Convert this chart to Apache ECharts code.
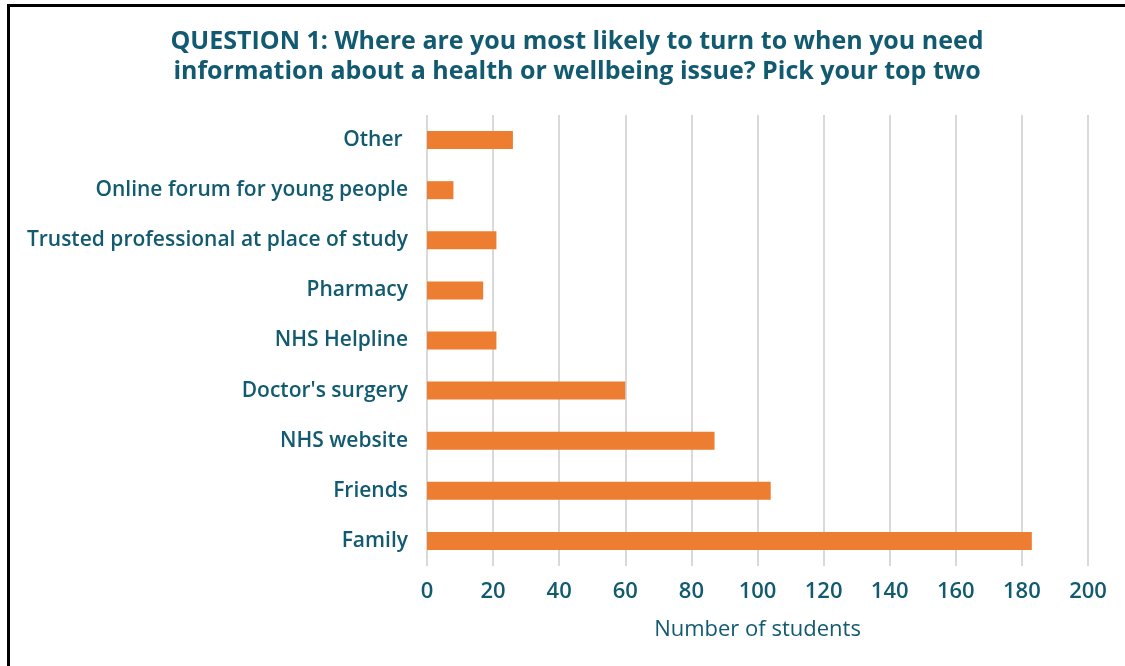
<!DOCTYPE html>
<html>
<head>
<meta charset="utf-8">
<script src="https://cdn.jsdelivr.net/npm/echarts@6/dist/echarts.min.js"></script>
<style>
  html, body { margin: 0; padding: 0; background: #fff; }
  #chart { width: 1125px; height: 666px; }
</style>
</head>
<body>
<div id="chart"></div>
<script>
// categories, top to bottom
const categories = [
  "Other ",
  "Online forum for young people",
  "Trusted professional at place of study",
  "Pharmacy",
  "NHS Helpline",
  "Doctor's surgery",
  "NHS website",
  "Friends",
  "Family"
];
const students = [26, 8, 21, 17, 21, 60, 87, 104, 183];
const xTicks = [0, 200, 20]; // min, max, interval

const textColor = "#115a70";
const font = "Open Sans";
const myChart = echarts.init(document.getElementById("chart"));

const option = {
  animation: false,
  textStyle: { fontFamily: font },
  title: {
    text: "QUESTION 1: Where are you most likely to turn to when you need\ninformation about a health or wellbeing issue? Pick your top two",
    left: 572,
    top: 22,
    textAlign: "center",
    textStyle: {
      color: textColor,
      fontSize: 25,
      fontWeight: "bold",
      lineHeight: 30,
      fontFamily: font
    }
  },
  graphic: [
    {
      type: "rect",
      shape: { x: 8.5, y: 5.5, width: 1200, height: 700 },
      style: { fill: null, stroke: "#000", lineWidth: 3 },
      silent: true
    }
  ],
  grid: {
    left: 427,
    right: 37,
    top: 115,
    bottom: 100
  },
  xAxis: {
    type: "value",
    min: xTicks[0],
    max: xTicks[1],
    interval: xTicks[2],
    name: "Number of students",
    nameLocation: "middle",
    nameGap: 53,
    nameTextStyle: { color: textColor, fontSize: 22 },
    axisLine: { show: false },
    axisTick: { show: false },
    axisLabel: { color: textColor, fontSize: 22, fontWeight: 600, margin: 15 },
    splitLine: { lineStyle: { color: "#d9d9d9", width: 2 } }
  },
  yAxis: {
    type: "category",
    inverse: true,
    data: categories,
    axisLine: { show: false },
    axisTick: { show: false },
    axisLabel: { color: textColor, fontSize: 21, fontWeight: 600, margin: 19 }
  },
  series: [
    {
      type: "bar",
      data: students,
      barWidth: 18,
      itemStyle: { color: "#ed7d31" }
    }
  ]
};
myChart.setOption(option);
window.addEventListener("resize", function () {
  myChart.resize();
});
</script>
</body>
</html>
